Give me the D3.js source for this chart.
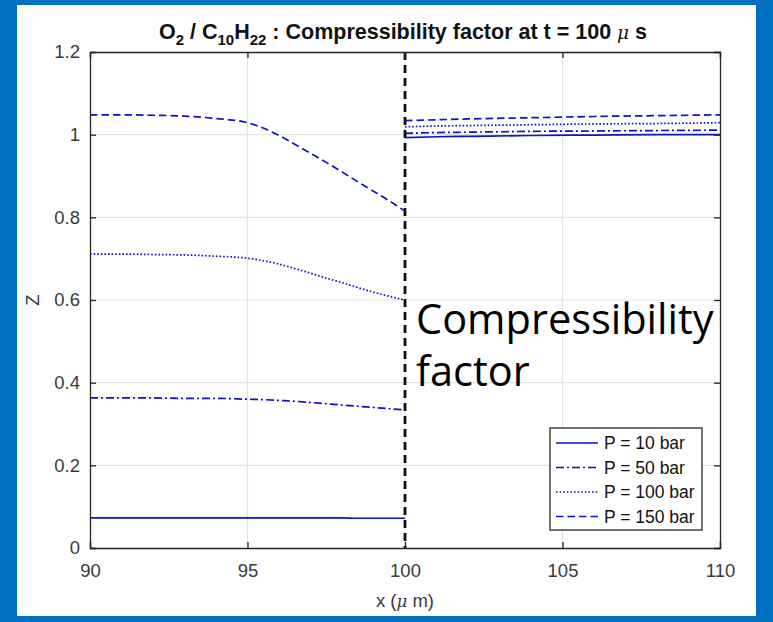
<!DOCTYPE html>
<html><head><meta charset="utf-8">
<script src="https://cdn.jsdelivr.net/npm/d3@7"></script>
<style>body{margin:0;background:#0070c0;} svg{display:block;}</style>
</head><body>
<svg id="chart" width="773" height="622"></svg>
<script>
// ---- data ----
const xLeft = [90, 91, 92, 93, 94, 95, 95.5, 96, 96.5, 97, 97.5, 98, 98.5, 99, 99.5, 100];
const z10Left  = [0.073, 0.073, 0.073, 0.073, 0.073, 0.073, 0.073, 0.073, 0.073, 0.073, 0.073, 0.073, 0.072, 0.072, 0.072, 0.072];
const z50Left  = [0.363, 0.363, 0.363, 0.362, 0.362, 0.360, 0.359, 0.357, 0.355, 0.352, 0.349, 0.346, 0.343, 0.340, 0.337, 0.334];
const z100Left = [0.711, 0.711, 0.710, 0.709, 0.706, 0.701, 0.695, 0.687, 0.676, 0.665, 0.653, 0.642, 0.630, 0.619, 0.609, 0.600];
const z150Left = [1.048, 1.048, 1.047, 1.045, 1.039, 1.029, 1.016, 0.998, 0.977, 0.955, 0.933, 0.910, 0.886, 0.863, 0.840, 0.815];
const xRight = [100, 101, 102, 104, 106, 108, 110];
const z10Right  = [0.993, 0.995, 0.996, 0.998, 0.999, 1.000, 1.000];
const z50Right  = [1.003, 1.005, 1.006, 1.008, 1.009, 1.010, 1.011];
const z100Right = [1.019, 1.021, 1.022, 1.024, 1.026, 1.027, 1.029];
const z150Right = [1.034, 1.036, 1.038, 1.041, 1.044, 1.046, 1.048];
const seriesNames = ["P = 10 bar", "P = 50 bar", "P = 100 bar", "P = 150 bar"];
const xTicks = [90, 95, 100, 105, 110];
const xTickLabels = ["90", "95", "100", "105", "110"];
const yTicks = [0, 0.2, 0.4, 0.6, 0.8, 1.0, 1.2];
const yTickLabels = ["0", "0.2", "0.4", "0.6", "0.8", "1", "1.2"];
const interfaceX = 100;

// ---- layout ----
const svg = d3.select("#chart");
svg.append("rect").attr("x", 17).attr("y", 5).attr("width", 739).attr("height", 611).attr("fill", "#fff");
const L = 90, R = 720, T = 52, B = 548;
const x = d3.scaleLinear().domain([90, 110]).range([L, R]);
const y = d3.scaleLinear().domain([0, 1.2]).range([B, T]);
const axisColor = "#262626";
const labelColor = "#3a3a3a";
const blue = "#1010cc";
const dashes = ["none", "8,3,2,3", "1.6,2", "7.5,4"];

// grid
const g = svg.append("g");
g.selectAll(".gx").data(xTicks.slice(1, -1)).join("line")
  .attr("x1", d => x(d)).attr("x2", d => x(d)).attr("y1", T).attr("y2", B)
  .attr("stroke", "#e2e2e2").attr("stroke-width", 1.2);
g.selectAll(".gy").data(yTicks.slice(1, -1)).join("line")
  .attr("y1", d => y(d)).attr("y2", d => y(d)).attr("x1", L).attr("x2", R)
  .attr("stroke", "#e2e2e2").attr("stroke-width", 1.2);

// series
const sets = [
  [z10Left, z10Right], [z50Left, z50Right], [z100Left, z100Right], [z150Left, z150Right]
];
const line = d3.line().x(d => x(d[0])).y(d => y(d[1])).curve(d3.curveMonotoneX);
sets.forEach((s, i) => {
  [[xLeft, s[0]], [xRight, s[1]]].forEach(([xs, ys]) => {
    svg.append("path").datum(xs.map((v, k) => [v, ys[k]]))
      .attr("d", line).attr("fill", "none").attr("stroke", blue)
      .attr("stroke-width", 1.7).attr("stroke-dasharray", dashes[i]);
  });
});

// interface line
svg.append("line").attr("x1", x(interfaceX)).attr("x2", x(interfaceX))
  .attr("y1", T).attr("y2", B).attr("stroke", "#111").attr("stroke-width", 2.8)
  .attr("stroke-dasharray", "8,5");

// axes
const fontTick = "Liberation Sans, Arial, sans-serif";
const axB = svg.append("g").attr("transform", `translate(0,${B})`)
  .call(d3.axisBottom(x).tickValues(xTicks).tickFormat((d, i) => xTickLabels[i]).tickSize(-6).tickPadding(16));
const axT = svg.append("g").attr("transform", `translate(0,${T})`)
  .call(d3.axisTop(x).tickValues(xTicks).tickFormat("").tickSize(-6));
const axL = svg.append("g").attr("transform", `translate(${L},0)`)
  .call(d3.axisLeft(y).tickValues(yTicks).tickFormat((d, i) => yTickLabels[i]).tickSize(-6).tickPadding(10));
const axR = svg.append("g").attr("transform", `translate(${R},0)`)
  .call(d3.axisRight(y).tickValues(yTicks).tickFormat("").tickSize(-6));
[axB, axT, axL, axR].forEach(a => {
  a.select(".domain").attr("stroke", axisColor).attr("stroke-width", 1.3);
  a.selectAll(".tick line").attr("stroke", axisColor).attr("stroke-width", 1.3);
  a.selectAll("text").attr("fill", labelColor).attr("font-family", fontTick).attr("font-size", 18.5);
});

// title
const title = svg.append("text").attr("x", 403).attr("y", 39).attr("text-anchor", "middle")
  .attr("font-family", fontTick).attr("font-size", 21.5).attr("font-weight", "bold").attr("fill", "#111");
title.append("tspan").text("O");
title.append("tspan").attr("font-size", 15).attr("dy", 6).text("2");
title.append("tspan").attr("dy", -6).text(" / C");
title.append("tspan").attr("font-size", 15).attr("dy", 6).text("10");
title.append("tspan").attr("dy", -6).text("H");
title.append("tspan").attr("font-size", 15).attr("dy", 6).text("22");
title.append("tspan").attr("dy", -6).text(" : Compressibility factor at t = 100 ");
title.append("tspan").attr("font-style", "italic").attr("font-weight", "normal").attr("font-family", "DejaVu Serif, serif").attr("font-size", 18.5).text("μ");
title.append("tspan").text(" s");

// axis labels
const xl = svg.append("text").attr("x", 405).attr("y", 607).attr("text-anchor", "middle")
  .attr("font-family", fontTick).attr("font-size", 18.5).attr("fill", labelColor);
xl.append("tspan").text("x (");
xl.append("tspan").attr("font-style", "italic").attr("font-family", "DejaVu Serif, serif").attr("font-size", 16.5).text("μ");
xl.append("tspan").text(" m)");
svg.append("text").attr("transform", "translate(39,300) rotate(-90)").attr("text-anchor", "middle")
  .attr("font-family", fontTick).attr("font-size", 18.5).attr("fill", labelColor).text("Z");

// annotation
const ann = svg.append("text").attr("font-family", "Open Sans, sans-serif").attr("font-size", 41.5).attr("fill", "#000");
ann.append("tspan").attr("x", 416).attr("y", 334).text("Compressibility");
ann.append("tspan").attr("x", 416).attr("y", 386).text("factor");

// legend
const lg = svg.append("g");
lg.append("rect").attr("x", 550).attr("y", 428).attr("width", 152).attr("height", 102)
  .attr("fill", "#fff").attr("stroke", axisColor).attr("stroke-width", 1.3);
seriesNames.forEach((n, i) => {
  const yy = 443 + i * 24.5;
  lg.append("line").attr("x1", 556).attr("x2", 598).attr("y1", yy).attr("y2", yy)
    .attr("stroke", blue).attr("stroke-width", 1.7).attr("stroke-dasharray", dashes[i]);
  lg.append("text").attr("x", 604).attr("y", yy + 6).attr("font-family", fontTick)
    .attr("font-size", 17.5).attr("fill", "#111").text(n);
});
</script>
</body></html>
